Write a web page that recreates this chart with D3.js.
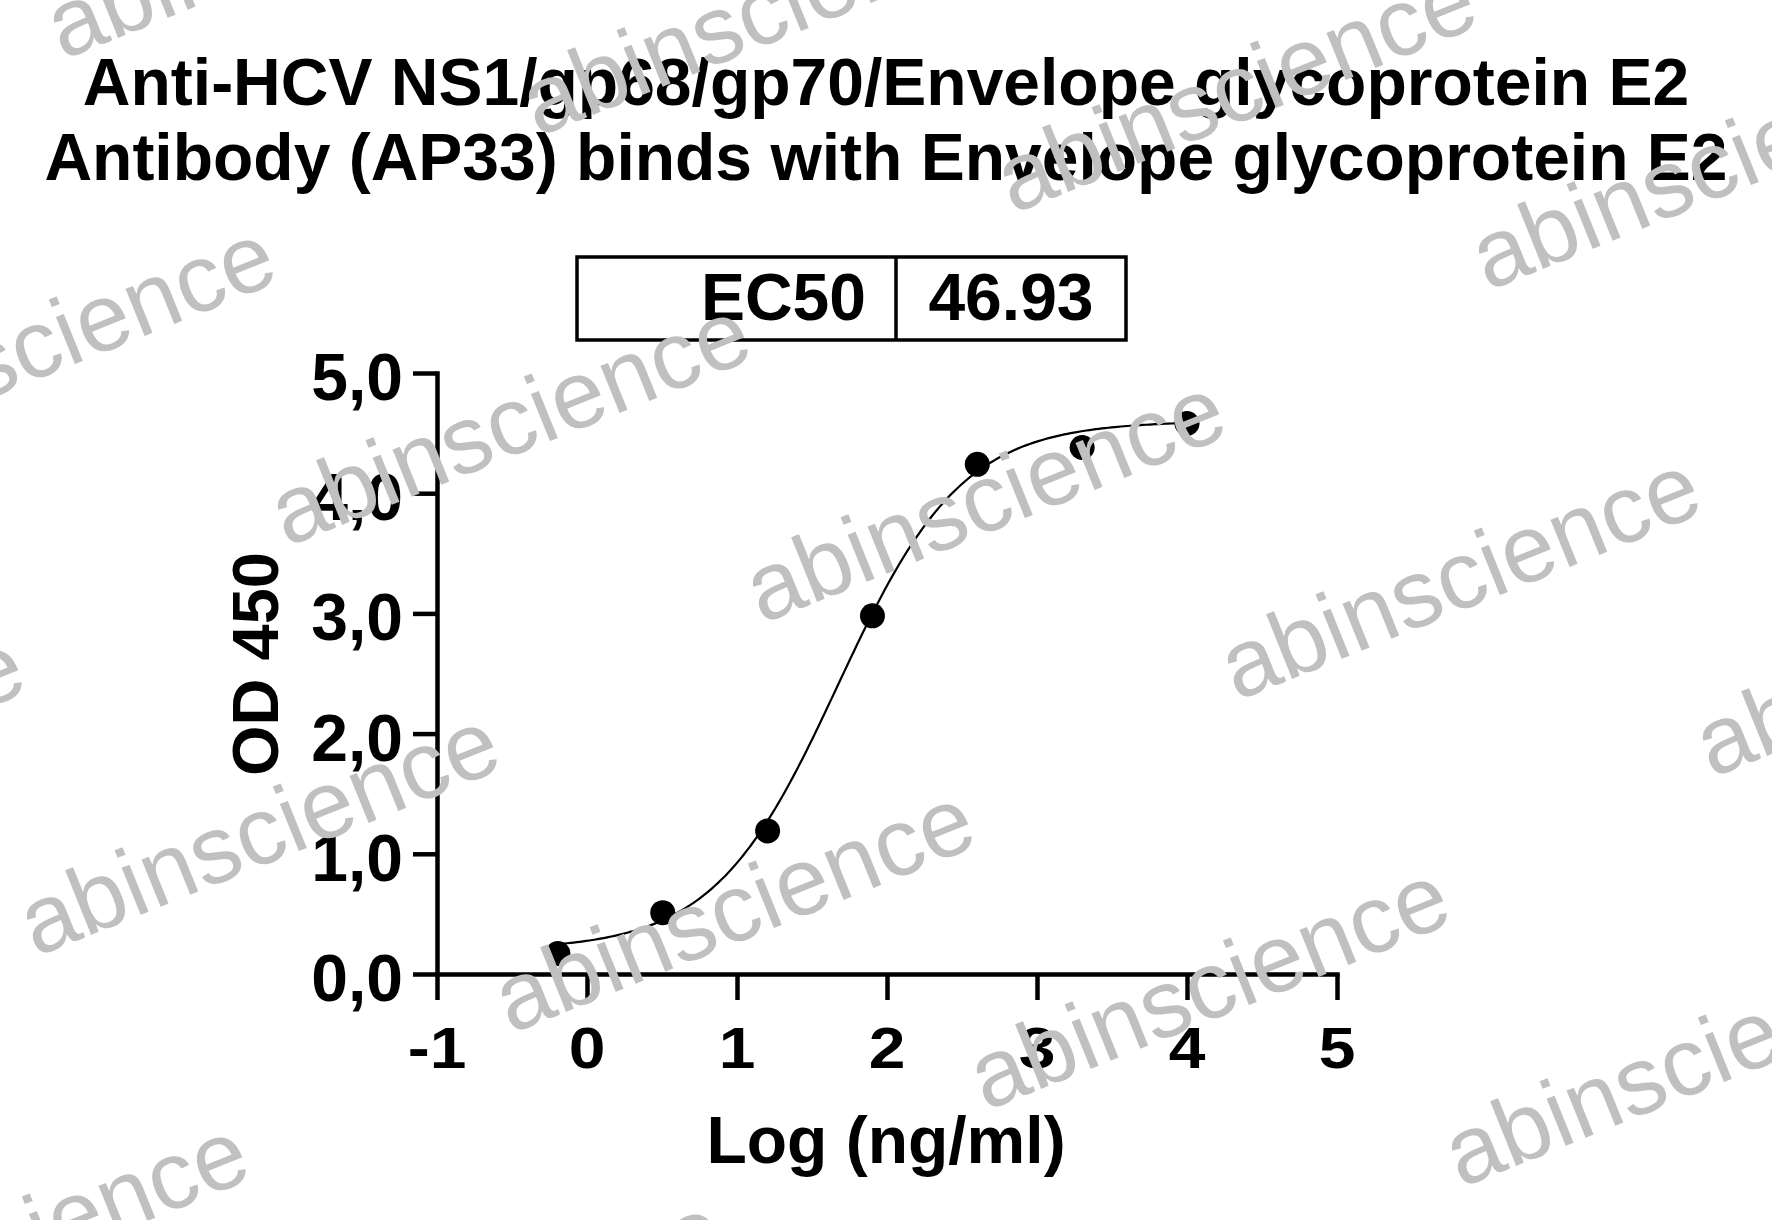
<!DOCTYPE html>
<html>
<head>
<meta charset="utf-8">
<script src="https://cdn.jsdelivr.net/npm/d3@7"></script>
<style>
  html, body { margin: 0; padding: 0; background: #ffffff; }
  svg { display: block; }
  text { font-family: "Liberation Sans", Arial, sans-serif; }
</style>
</head>
<body>
<script>
// ---------------- data ----------------
const titleLines = [
  "Anti-HCV NS1/gp68/gp70/Envelope glycoprotein E2",
  "Antibody (AP33) binds with Envelope glycoprotein E2"
];
const logConc = [-0.194, 0.505, 1.204, 1.903, 2.602, 3.301, 4.0];   // Log (ng/ml)
const od450   = [0.17, 0.51, 1.19, 2.98, 4.24, 4.38, 4.58];          // OD 450
const xTicks = [-1, 0, 1, 2, 3, 4, 5];
const yTicks = [0, 1, 2, 3, 4, 5];
const ec50Label = "EC50";
const ec50Value = "46.93";
// 4PL fit parameters (fitted curve)
const fitBottom = 0.20, fitTop = 4.60, fitLogEC50 = Math.log10(46.93), fitHill = 1.05;
const xLabel = "Log (ng/ml)";
const yLabel = "OD 450";
const watermark = "abinscience";

// ---------------- layout ----------------
const W = 1772, H = 1220;
const svg = d3.select("body").append("svg").attr("width", W).attr("height", H);
svg.append("rect").attr("width", W).attr("height", H).attr("fill", "#fff");

const x = d3.scaleLinear().domain([-1, 5]).range([437, 1337]);
const y = d3.scaleLinear().domain([0, 5]).range([974, 373]);

// title
svg.selectAll("text.title").data(titleLines).join("text")
  .attr("class", "title")
  .attr("x", 886).attr("y", (d, i) => 105 + i * 75)
  .attr("text-anchor", "middle")
  .attr("font-size", 66).attr("font-weight", "bold")
  .text(d => d);

// EC50 box
const box = svg.append("g");
box.append("rect").attr("x", 577).attr("y", 257).attr("width", 549).attr("height", 83)
  .attr("fill", "none").attr("stroke", "#000").attr("stroke-width", 3.5);
box.append("line").attr("x1", 896).attr("x2", 896).attr("y1", 257).attr("y2", 340)
  .attr("stroke", "#000").attr("stroke-width", 3.5);
box.append("text").attr("x", 866).attr("y", 320).attr("text-anchor", "end")
  .attr("font-size", 66).attr("font-weight", "bold").text(ec50Label);
box.append("text").attr("x", 1011).attr("y", 320).attr("text-anchor", "middle")
  .attr("font-size", 66).attr("font-weight", "bold").text(ec50Value);

// axes
const yAxis = d3.axisLeft(y).tickValues(yTicks)
  .tickFormat(d => d.toFixed(1).replace(".", ","))
  .tickSize(24).tickSizeOuter(0).tickPadding(10);
const gy = svg.append("g").attr("transform", "translate(437,0)").call(yAxis);
gy.select(".domain").attr("stroke-width", 4.5).attr("stroke-linecap", "square");
gy.selectAll(".tick line").attr("stroke-width", 4.5);
gy.selectAll(".tick text").attr("font-size", 66).attr("font-weight", "bold")
  .attr("font-family", "Liberation Sans, Arial, sans-serif")
  .attr("fill", "#000").attr("dy", "0.4em");

const xAxis = d3.axisBottom(x).tickValues(xTicks).tickFormat("")
  .tickSize(26).tickSizeOuter(0);
const gx = svg.append("g").attr("transform", "translate(0,974)").call(xAxis);
gx.select(".domain").attr("stroke-width", 4.5).attr("stroke-linecap", "square");
gx.selectAll(".tick line").attr("stroke-width", 4.5);
svg.selectAll("text.xtick").data(xTicks).join("text")
  .attr("class", "xtick")
  .attr("transform", d => `translate(${x(d)},1068) scale(1,0.88)`)
  .attr("text-anchor", "middle")
  .attr("font-size", 66).attr("font-weight", "bold")
  .text(d => d3.format("d")(d).replace("−", "-"));

// axis titles
svg.append("text").attr("transform", "translate(278,664) rotate(-90)")
  .attr("text-anchor", "middle").attr("font-size", 65).attr("font-weight", "bold")
  .text(yLabel);
svg.append("text").attr("x", 886).attr("y", 1163)
  .attr("text-anchor", "middle").attr("font-size", 66).attr("font-weight", "bold")
  .text(xLabel);

// fitted curve
const fit = v => fitBottom + (fitTop - fitBottom) / (1 + Math.pow(10, (fitLogEC50 - v) * fitHill));
const xs = d3.range(0, 201).map(i => logConc[0] + (logConc[logConc.length - 1] - logConc[0]) * i / 200);
svg.append("path")
  .attr("d", d3.line().x(v => x(v)).y(v => y(fit(v)))(xs))
  .attr("fill", "none").attr("stroke", "#000").attr("stroke-width", 2.2);

// points
svg.selectAll("circle.pt").data(logConc.map((v, i) => [v, od450[i]])).join("circle")
  .attr("class", "pt")
  .attr("cx", d => x(d[0])).attr("cy", d => y(d[1])).attr("r", 12.5)
  .attr("fill", "#000");

// watermark lattice
const wm = [];
for (let i = -3; i <= 5; i++) {
  for (let j = -2; j <= 3; j++) {
    const cx = 510 + i * 475 + j * -251;
    const cy = 423 + i * 77 + j * 410;
    if (cx > -300 && cx < W + 300 && cy > -150 && cy < H + 150) wm.push([cx, cy]);
  }
}
svg.append("g").selectAll("text").data(wm).join("text")
  .attr("transform", d => `translate(${d[0]},${d[1]}) rotate(-22)`)
  .attr("text-anchor", "middle").attr("dy", "0.33em")
  .attr("font-size", 96).attr("fill", "#c0c0c0")
  .text(watermark);
</script>
</body>
</html>
